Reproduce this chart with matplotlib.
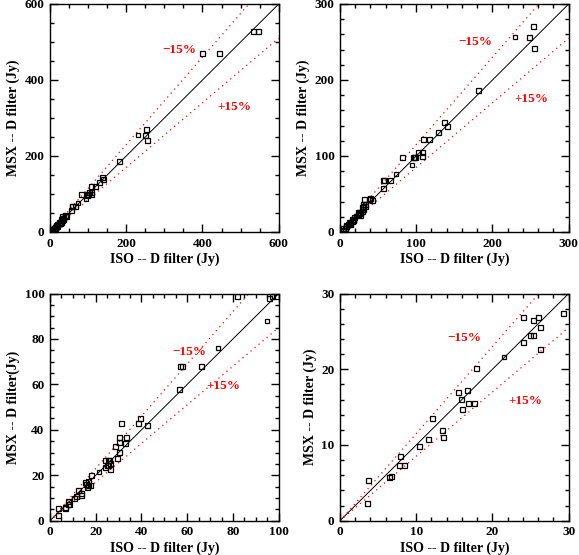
import matplotlib
matplotlib.use("Agg")
import matplotlib.pyplot as plt
from matplotlib.ticker import MultipleLocator
import numpy as np

# ISO vs MSX fluxes (Jy), D filter -- normal markers
iso = [3.7, 3.6, 6.4, 6.7, 7.8, 7.9, 8.4, 10.4, 11.5, 12.1, 13.4, 13.5,
       15.5, 15.9, 16.0, 16.6, 16.8, 17.6, 17.9, 24.0, 24.0, 24.9, 25.3,
       25.3, 26.0, 26.3, 26.3, 29.2,
       28.4, 30.2, 30.2, 30.2, 31.0, 32.8, 33.2, 38.4, 39.4, 42.4,
       56.4, 56.9, 57.6, 65.9, 81.6, 95.9, 96.9, 98.8,
       101.9, 107.1, 107.1, 108.5, 116.8, 128.6, 136.0, 139.9, 180.6,
       248.4, 252.8, 254.1,
       398.0, 443.0, 533.0, 547.0]
msx = [5.4, 2.4, 5.8, 5.9, 7.3, 8.6, 7.4, 9.9, 10.8, 13.6, 12.0, 11.1,
       17.0, 16.1, 14.8, 17.3, 15.6, 15.6, 20.2, 26.9, 23.6, 24.5, 24.5,
       26.5, 26.9, 25.6, 22.7, 27.4,
       33.0, 36.8, 34.5, 30.3, 43.0, 34.2, 36.8, 43.0, 45.1, 42.1,
       57.9, 68.0, 68.0, 68.0, 98.7, 98.2, 98.7, 99.0,
       104.7, 104.7, 99.4, 122.3, 122.3, 131.1, 144.3, 139.0, 186.5,
       256.0, 270.9, 241.9,
       470.0, 470.0, 530.0, 530.0]
# smaller markers
iso_small = [21.5, 73.5, 94.9, 230.0]
msx_small = [21.6, 76.2, 88.0, 256.0]

limits = [600, 300, 100, 30]
majors = [200, 100, 20, 10]
minors = [50, 20, 5, 2]
ylabels = ["MSX -- D filter (Jy)", "MSX -- D filter (Jy)",
           "MSX -- D filter(Jy)", "MSX -- D filter (Jy)"]
xlabel = "ISO -- D filter (Jy)"
lab_minus = [(295, 479), (155, 250), (53.3, 74.4), (14.1, 24.1)]
lab_plus = [(439, 329), (229, 175), (68.2, 59.2), (22.1, 15.8)]

W, H = 579, 555
fig = plt.figure(figsize=(W / 100, H / 100), dpi=100)
font = dict(family="Liberation Serif", weight="bold")

boxes = [(50, 4, 278.7, 232), (340, 4, 568.7, 232),
         (50, 293.5, 278.7, 520.7), (340, 293.5, 568.7, 520.7)]

for i, (x0, y0, x1, y1) in enumerate(boxes):
    ax = fig.add_axes([x0 / W, 1 - y1 / H, (x1 - x0) / W, (y1 - y0) / H])
    L = limits[i]
    ax.set_xlim(0, L)
    ax.set_ylim(0, L)
    xx = np.array([0, L])
    ax.plot(xx, xx, color="black", lw=0.7)
    ax.plot(xx, 1.15 * xx, color="red", lw=0.9, linestyle=(0, (1, 3.2)))
    ax.plot(xx, 0.85 * xx, color="red", lw=0.9, linestyle=(0, (1, 3.2)))
    ax.plot(iso, msx, linestyle="none", marker="s", ms=3.6,
            mfc="none", mec="black", mew=0.9)
    ax.plot(iso_small, msx_small, linestyle="none", marker="s", ms=2.8,
            mfc="none", mec="black", mew=0.9)
    ax.text(*lab_minus[i], "\u221215%", color="red", fontsize=9.5,
            ha="left", va="center", **font)
    ax.text(*lab_plus[i], "+15%", color="red", fontsize=9.5,
            ha="left", va="center", **font)
    ax.xaxis.set_major_locator(MultipleLocator(majors[i]))
    ax.yaxis.set_major_locator(MultipleLocator(majors[i]))
    ax.xaxis.set_minor_locator(MultipleLocator(minors[i]))
    ax.yaxis.set_minor_locator(MultipleLocator(minors[i]))
    ax.tick_params(which="both", direction="in", top=True, right=True,
                   width=1.0, color="black")
    ax.tick_params(which="major", length=5.8, pad=4, labelsize=9.5)
    ax.tick_params(which="minor", length=2.9)
    for lbl in ax.get_xticklabels() + ax.get_yticklabels():
        lbl.set_fontfamily("Liberation Serif")
        lbl.set_fontweight("bold")
    for s in ax.spines.values():
        s.set_linewidth(1.0)
    ax.set_xlabel(xlabel, fontsize=10, labelpad=2, **font)
    ax.set_ylabel(ylabels[i], fontsize=10, labelpad=3, **font)

fig.savefig("out.png", dpi=100)
